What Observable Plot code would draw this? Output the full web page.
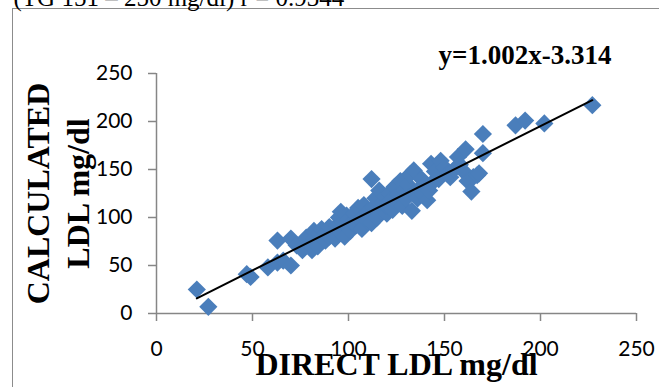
<!DOCTYPE html>
<html>
<head>
<meta charset="utf-8">
<script src="https://cdn.jsdelivr.net/npm/d3@7"></script>
<script src="https://cdn.jsdelivr.net/npm/@observablehq/plot@0.6"></script>
<style>
  html, body { margin: 0; padding: 0; background: #fff; overflow: hidden; }
  #wrap { position: relative; width: 659px; height: 387px; overflow: hidden; }
  #frame { position: absolute; left: 12px; top: 8px; width: 700px; height: 420px;
           border: 1.5px solid #8c8c8c; box-sizing: border-box; }
  #chart { position: absolute; left: 0; top: 0; }
  #chart svg { overflow: visible; }
</style>
</head>
<body>
<div id="wrap"><div id="frame"></div><div id="chart"></div></div>
<script>
// Direct LDL (x) vs calculated LDL (y), mg/dl
const directLDL = [
  21, 27, 47, 49, 58, 63, 63, 66, 70, 70, 73, 76, 78, 81, 82,
  80, 82, 84, 85, 86, 88, 88, 90, 90, 92,
  93, 94, 95, 96, 96, 97, 98, 99, 100, 100,
  101, 102, 103, 104, 105, 106, 107, 108, 108, 110, 110,
  112, 112, 113, 114, 115, 116, 117, 118, 119, 120, 120,
  121, 122, 123, 124, 125, 126, 127, 128, 129, 130,
  131, 132, 133, 134, 134, 136, 137, 138, 139, 140,
  141, 142, 143, 143, 145, 147, 148, 150, 152, 153, 155, 157, 158, 160,
  161, 162, 164, 165, 167, 168, 170, 170,
  187, 192, 202, 227
];
const calculatedLDL = [
  25, 7, 41, 38, 48, 53, 76, 55, 50, 78, 71, 66, 79, 66, 86,
  72, 78, 70, 82, 88, 76, 84, 90, 80, 86,
  78, 92, 100, 106, 84, 95, 80, 102, 90, 98,
  86, 95, 104, 92, 110, 98, 88, 113, 102, 96, 106,
  140, 94, 110, 120, 100, 128, 106, 116, 122, 104, 112,
  125, 118, 108, 132, 115, 124, 138, 112, 128, 120,
  134, 145, 107, 149, 126, 120, 130, 140, 124, 135,
  118, 128, 135, 156, 148, 140, 159, 152, 146, 142, 150, 163, 155, 148,
  171, 138, 127, 142, 144, 146, 187, 167,
  196, 201, 198, 217
];
const xTicks = [0, 50, 100, 150, 200, 250];
const yTicks = [0, 50, 100, 150, 200, 250];
const xTitle = "DIRECT LDL mg/dl";
const yTitle = "CALCULATED\nLDL mg/dl";
const equation = "y=1.002x-3.314";
const topNote = "(TG 151 – 250 mg/dl) r = 0.9344";

const data = directLDL.map((x, i) => ({x, y: calculatedLDL[i]}));
const axisGray = "#868686";
const blue = "#4a7ebb";
const serif = "'Liberation Serif', 'Times New Roman', serif";

const plot = Plot.plot({
  width: 659,
  height: 387,
  marginLeft: 156,
  marginRight: 23,
  marginTop: 73,
  marginBottom: 74,
  style: {fontFamily: "Lato, sans-serif", fontSize: "21px", color: "#000", background: "transparent", overflow: "visible"},
  x: {domain: [0, 250]},
  y: {domain: [0, 250]},
  marks: [
    Plot.ruleY([0], {stroke: axisGray, strokeWidth: 1.5}),
    Plot.ruleX([0], {stroke: axisGray, strokeWidth: 1.5}),
    Plot.axisX({ticks: xTicks, tickSize: 8, tickPadding: 20, stroke: axisGray, strokeWidth: 1.5, fill: "#000", label: null}),
    Plot.axisY({ticks: yTicks, tickSize: 8, tickPadding: 16, stroke: axisGray, strokeWidth: 1.5, fill: "#000", label: null}),
    Plot.dot(data, {x: "x", y: "y", symbol: "diamond2", r: 8.2, fill: blue, stroke: "none"}),
    Plot.linearRegressionY(data, {x: "x", y: "y", ci: 0, stroke: "#000", strokeWidth: 2}),
    Plot.text([equation], {frameAnchor: "top-left", text: d => d, dx: 282, dy: -18, textAnchor: "start",
      lineAnchor: "middle", fontFamily: serif, fontWeight: "bold", fontSize: 27, fill: "#000"}),
    Plot.text([xTitle], {frameAnchor: "bottom", text: d => d, dy: 39, lineAnchor: "top", textAnchor: "middle",
      fontFamily: serif, fontWeight: "bold", fontSize: 32, fill: "#000"}),
    Plot.text([yTitle], {frameAnchor: "left", text: d => d, dx: -100, rotate: -90, lineHeight: 1.25,
      textAnchor: "middle", lineAnchor: "middle",
      fontFamily: serif, fontWeight: "bold", fontSize: 32, fill: "#000"}),
    Plot.text([topNote], {frameAnchor: "top-left", text: d => d, dx: -143, dy: -76, textAnchor: "start",
      lineAnchor: "middle", fontFamily: serif, fontSize: 25, fill: "#000"})
  ]
});
document.getElementById("chart").appendChild(plot);
</script>
</body>
</html>
